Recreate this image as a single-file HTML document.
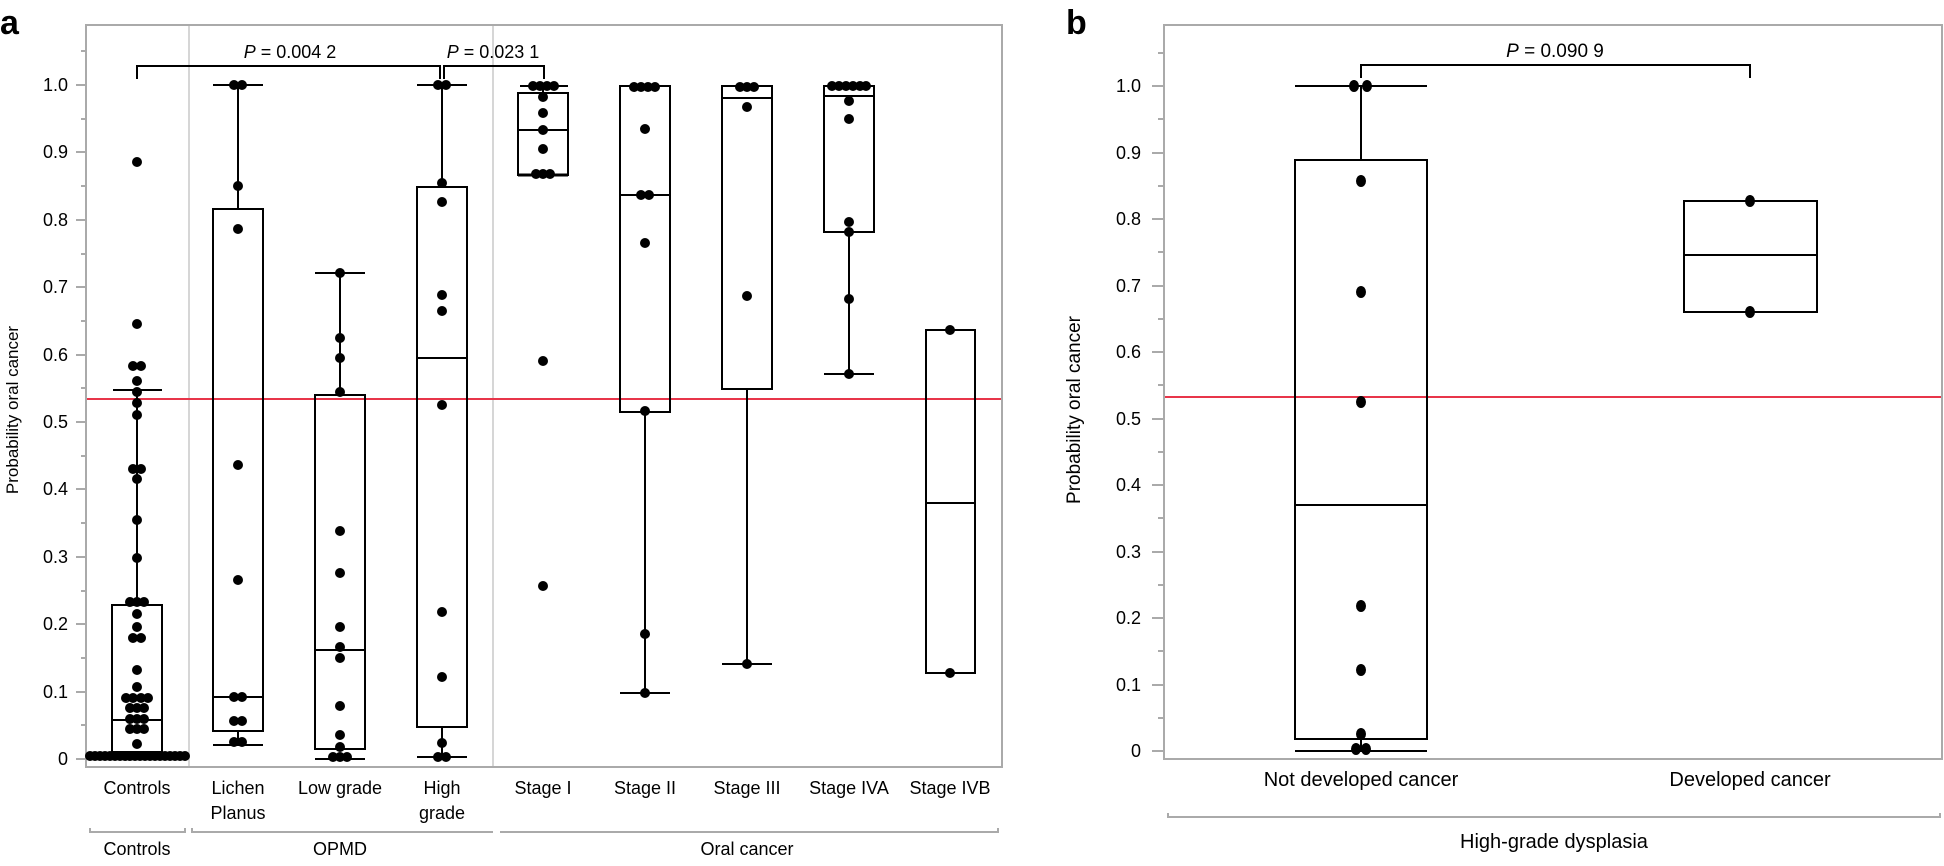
<!DOCTYPE html>
<html><head><meta charset="utf-8"><style>
html,body{margin:0;padding:0;background:#fff;}
svg{display:block;font-family:"Liberation Sans",Arial,sans-serif;}
</style></head><body>
<svg width="1944" height="866" viewBox="0 0 1944 866" xmlns="http://www.w3.org/2000/svg">
<!-- Panel a -->
<text x="0" y="34" font-size="34" font-weight="bold">a</text>
<line x1="189" y1="26" x2="189" y2="766" stroke="#d6d6d6" stroke-width="2"/>
<line x1="493" y1="26" x2="493" y2="766" stroke="#d6d6d6" stroke-width="2"/>
<rect x="86" y="25" width="916" height="742" fill="none" stroke="#aaa" stroke-width="2"/>
<g stroke="#aaa" stroke-width="2">
<line x1="76" y1="759" x2="86" y2="759"/><line x1="76" y1="692" x2="86" y2="692"/><line x1="76" y1="624" x2="86" y2="624"/><line x1="76" y1="557" x2="86" y2="557"/><line x1="76" y1="489" x2="86" y2="489"/><line x1="76" y1="422" x2="86" y2="422"/><line x1="76" y1="355" x2="86" y2="355"/><line x1="76" y1="287" x2="86" y2="287"/><line x1="76" y1="220" x2="86" y2="220"/><line x1="76" y1="152" x2="86" y2="152"/><line x1="76" y1="85" x2="86" y2="85"/>
<line x1="81" y1="725" x2="86" y2="725"/><line x1="81" y1="658" x2="86" y2="658"/><line x1="81" y1="591" x2="86" y2="591"/><line x1="81" y1="523" x2="86" y2="523"/><line x1="81" y1="456" x2="86" y2="456"/><line x1="81" y1="388" x2="86" y2="388"/><line x1="81" y1="321" x2="86" y2="321"/><line x1="81" y1="254" x2="86" y2="254"/><line x1="81" y1="186" x2="86" y2="186"/><line x1="81" y1="119" x2="86" y2="119"/><line x1="81" y1="51" x2="86" y2="51"/>
</g>
<g font-size="18" text-anchor="end">
<text x="68" y="765">0</text><text x="68" y="698">0.1</text><text x="68" y="630">0.2</text><text x="68" y="563">0.3</text><text x="68" y="495">0.4</text><text x="68" y="428">0.5</text><text x="68" y="361">0.6</text><text x="68" y="293">0.7</text><text x="68" y="226">0.8</text><text x="68" y="158">0.9</text><text x="68" y="91">1.0</text>
</g>
<text transform="translate(18,410) rotate(-90)" font-size="17" text-anchor="middle">Probability oral cancer</text>
<line x1="87" y1="399" x2="1001" y2="399" stroke="#e8354a" stroke-width="2"/>

<g stroke="#000" stroke-width="2" fill="none">
<polyline points="137,79 137,66 440,66 440,79"/>
<polyline points="444,79 444,66 544,66 544,79"/>
</g>
<text x="290" y="58" font-size="18" text-anchor="middle"><tspan font-style="italic">P</tspan> = 0.004 2</text>
<text x="493" y="58" font-size="18" text-anchor="middle"><tspan font-style="italic">P</tspan> = 0.023 1</text>

<g stroke="#000" stroke-width="2" fill="none">
<rect x="112" y="605" width="50" height="147"/><line x1="112" y1="720" x2="162" y2="720"/><line x1="137" y1="605" x2="137" y2="388"/><line x1="113" y1="390" x2="162" y2="390"/>
<rect x="213" y="209" width="50" height="522"/><line x1="213" y1="697" x2="263" y2="697"/><line x1="238" y1="209" x2="238" y2="85"/><line x1="213" y1="85" x2="263" y2="85"/><line x1="238" y1="731" x2="238" y2="745"/><line x1="213" y1="745" x2="263" y2="745"/>
<rect x="315" y="395" width="50" height="354"/><line x1="315" y1="650" x2="365" y2="650"/><line x1="340" y1="395" x2="340" y2="273"/><line x1="315" y1="273" x2="365" y2="273"/><line x1="315" y1="759" x2="365" y2="759"/>
<rect x="417" y="187" width="50" height="540"/><line x1="417" y1="358" x2="467" y2="358"/><line x1="442" y1="187" x2="442" y2="85"/><line x1="417" y1="85" x2="467" y2="85"/><line x1="442" y1="727" x2="442" y2="757"/><line x1="417" y1="757" x2="467" y2="757"/>
<rect x="518" y="93" width="50" height="82"/><line x1="518" y1="130" x2="568" y2="130"/><line x1="543" y1="93" x2="543" y2="86"/><line x1="520" y1="86" x2="568" y2="86"/><line x1="518" y1="175" x2="568" y2="175" stroke-width="3"/>
<rect x="620" y="86" width="50" height="326"/><line x1="620" y1="195" x2="670" y2="195"/><line x1="645" y1="412" x2="645" y2="693"/><line x1="620" y1="693" x2="670" y2="693"/>
<rect x="722" y="86" width="50" height="303"/><line x1="722" y1="98" x2="772" y2="98"/><line x1="747" y1="389" x2="747" y2="664"/><line x1="722" y1="664" x2="772" y2="664"/>
<rect x="824" y="86" width="50" height="146"/><line x1="824" y1="96" x2="874" y2="96"/><line x1="849" y1="232" x2="849" y2="374"/><line x1="824" y1="374" x2="874" y2="374"/>
<rect x="926" y="330" width="49" height="343"/><line x1="926" y1="503" x2="975" y2="503"/>
</g>

<g fill="#000">
<circle cx="137" cy="162" r="5"/><circle cx="137" cy="324" r="5"/><circle cx="133" cy="366" r="5"/><circle cx="141" cy="366" r="5"/><circle cx="137" cy="381" r="5"/><circle cx="137" cy="392" r="5"/><circle cx="137" cy="403" r="5"/><circle cx="137" cy="415" r="5"/><circle cx="133" cy="469" r="5"/><circle cx="141" cy="469" r="5"/><circle cx="137" cy="479" r="5"/><circle cx="137" cy="520" r="5"/><circle cx="137" cy="558" r="5"/>
<circle cx="130" cy="602" r="5"/><circle cx="137" cy="602" r="5"/><circle cx="144" cy="602" r="5"/><circle cx="137" cy="614" r="5"/><circle cx="137" cy="627" r="5"/><circle cx="133" cy="638" r="5"/><circle cx="141" cy="638" r="5"/><circle cx="137" cy="670" r="5"/><circle cx="137" cy="687" r="5"/>
<circle cx="126" cy="698" r="5"/><circle cx="133" cy="698" r="5"/><circle cx="141" cy="698" r="5"/><circle cx="148" cy="698" r="5"/>
<circle cx="130" cy="708" r="5"/><circle cx="137" cy="708" r="5"/><circle cx="144" cy="708" r="5"/>
<circle cx="130" cy="719" r="5"/><circle cx="137" cy="719" r="5"/><circle cx="144" cy="719" r="5"/>
<circle cx="130" cy="729" r="5"/><circle cx="137" cy="729" r="5"/><circle cx="144" cy="729" r="5"/>
<circle cx="137" cy="744" r="5"/>
<circle cx="90" cy="756" r="5"/><circle cx="95" cy="756" r="5"/><circle cx="100" cy="756" r="5"/><circle cx="105" cy="756" r="5"/><circle cx="110" cy="756" r="5"/><circle cx="115" cy="756" r="5"/><circle cx="120" cy="756" r="5"/><circle cx="125" cy="756" r="5"/><circle cx="130" cy="756" r="5"/><circle cx="135" cy="756" r="5"/><circle cx="140" cy="756" r="5"/><circle cx="145" cy="756" r="5"/><circle cx="150" cy="756" r="5"/><circle cx="155" cy="756" r="5"/><circle cx="160" cy="756" r="5"/><circle cx="165" cy="756" r="5"/><circle cx="170" cy="756" r="5"/><circle cx="175" cy="756" r="5"/><circle cx="180" cy="756" r="5"/><circle cx="185" cy="756" r="5"/>
<circle cx="234" cy="85" r="5"/><circle cx="242" cy="85" r="5"/><circle cx="238" cy="186" r="5"/><circle cx="238" cy="229" r="5"/><circle cx="238" cy="465" r="5"/><circle cx="238" cy="580" r="5"/><circle cx="234" cy="697" r="5"/><circle cx="242" cy="697" r="5"/><circle cx="234" cy="721" r="5"/><circle cx="242" cy="721" r="5"/><circle cx="234" cy="742" r="5"/><circle cx="242" cy="742" r="5"/>
<circle cx="340" cy="273" r="5"/><circle cx="340" cy="338" r="5"/><circle cx="340" cy="358" r="5"/><circle cx="340" cy="392" r="5"/><circle cx="340" cy="531" r="5"/><circle cx="340" cy="573" r="5"/><circle cx="340" cy="627" r="5"/><circle cx="340" cy="647" r="5"/><circle cx="340" cy="658" r="5"/><circle cx="340" cy="706" r="5"/><circle cx="340" cy="735" r="5"/><circle cx="340" cy="747" r="5"/><circle cx="333" cy="757" r="5"/><circle cx="340" cy="757" r="5"/><circle cx="347" cy="757" r="5"/>
<circle cx="438" cy="85" r="5"/><circle cx="446" cy="85" r="5"/><circle cx="442" cy="183" r="5"/><circle cx="442" cy="202" r="5"/><circle cx="442" cy="295" r="5"/><circle cx="442" cy="311" r="5"/><circle cx="442" cy="405" r="5"/><circle cx="442" cy="612" r="5"/><circle cx="442" cy="677" r="5"/><circle cx="442" cy="743" r="5"/><circle cx="438" cy="757" r="5"/><circle cx="446" cy="757" r="5"/>
<circle cx="533" cy="86" r="5"/><circle cx="540" cy="86" r="5"/><circle cx="547" cy="86" r="5"/><circle cx="554" cy="86" r="5"/><circle cx="543" cy="97" r="5"/><circle cx="543" cy="113" r="5"/><circle cx="543" cy="130" r="5"/><circle cx="543" cy="149" r="5"/><circle cx="536" cy="174" r="5"/><circle cx="543" cy="174" r="5"/><circle cx="550" cy="174" r="5"/><circle cx="543" cy="361" r="5"/><circle cx="543" cy="586" r="5"/>
<circle cx="634" cy="87" r="5"/><circle cx="641" cy="87" r="5"/><circle cx="648" cy="87" r="5"/><circle cx="655" cy="87" r="5"/><circle cx="645" cy="129" r="5"/><circle cx="641" cy="195" r="5"/><circle cx="649" cy="195" r="5"/><circle cx="645" cy="243" r="5"/><circle cx="645" cy="411" r="5"/><circle cx="645" cy="634" r="5"/><circle cx="645" cy="693" r="5"/>
<circle cx="740" cy="87" r="5"/><circle cx="747" cy="87" r="5"/><circle cx="754" cy="87" r="5"/><circle cx="747" cy="107" r="5"/><circle cx="747" cy="296" r="5"/><circle cx="747" cy="664" r="5"/>
<circle cx="832" cy="86" r="5"/><circle cx="839" cy="86" r="5"/><circle cx="846" cy="86" r="5"/><circle cx="853" cy="86" r="5"/><circle cx="860" cy="86" r="5"/><circle cx="866" cy="86" r="5"/><circle cx="849" cy="101" r="5"/><circle cx="849" cy="119" r="5"/><circle cx="849" cy="222" r="5"/><circle cx="849" cy="232" r="5"/><circle cx="849" cy="299" r="5"/><circle cx="849" cy="374" r="5"/>
<circle cx="950" cy="330" r="5"/><circle cx="950" cy="673" r="5"/>
</g>

<g font-size="18" text-anchor="middle">
<text x="137" y="794">Controls</text>
<text x="238" y="794">Lichen</text><text x="238" y="819">Planus</text>
<text x="340" y="794">Low grade</text>
<text x="442" y="794">High</text><text x="442" y="819">grade</text>
<text x="543" y="794">Stage I</text>
<text x="645" y="794">Stage II</text>
<text x="747" y="794">Stage III</text>
<text x="849" y="794">Stage IVA</text>
<text x="950" y="794">Stage IVB</text>
</g>
<g font-size="18" text-anchor="middle">
<text x="137" y="855">Controls</text>
<text x="340" y="855">OPMD</text>
<text x="747" y="855">Oral cancer</text>
</g>
<g stroke="#aaa" stroke-width="2" fill="none">
<polyline points="90,828 90,832 185,832 185,828"/>
<polyline points="192,828 192,832 493,832"/>
<polyline points="500,832 998,832 998,828"/>
</g>

<!-- Panel b -->
<text x="1066" y="34" font-size="34" font-weight="bold">b</text>
<rect x="1164" y="25" width="778" height="734" fill="none" stroke="#aaa" stroke-width="2"/>
<g stroke="#aaa" stroke-width="2">
<line x1="1152" y1="751" x2="1164" y2="751"/><line x1="1152" y1="685" x2="1164" y2="685"/><line x1="1152" y1="618" x2="1164" y2="618"/><line x1="1152" y1="552" x2="1164" y2="552"/><line x1="1152" y1="485" x2="1164" y2="485"/><line x1="1152" y1="419" x2="1164" y2="419"/><line x1="1152" y1="352" x2="1164" y2="352"/><line x1="1152" y1="286" x2="1164" y2="286"/><line x1="1152" y1="219" x2="1164" y2="219"/><line x1="1152" y1="153" x2="1164" y2="153"/><line x1="1152" y1="86" x2="1164" y2="86"/>
<line x1="1158" y1="718" x2="1164" y2="718"/><line x1="1158" y1="651" x2="1164" y2="651"/><line x1="1158" y1="585" x2="1164" y2="585"/><line x1="1158" y1="518" x2="1164" y2="518"/><line x1="1158" y1="452" x2="1164" y2="452"/><line x1="1158" y1="385" x2="1164" y2="385"/><line x1="1158" y1="319" x2="1164" y2="319"/><line x1="1158" y1="252" x2="1164" y2="252"/><line x1="1158" y1="186" x2="1164" y2="186"/><line x1="1158" y1="119" x2="1164" y2="119"/><line x1="1158" y1="53" x2="1164" y2="53"/>
</g>
<g font-size="18" text-anchor="end">
<text x="1141" y="757">0</text><text x="1141" y="691">0.1</text><text x="1141" y="624">0.2</text><text x="1141" y="558">0.3</text><text x="1141" y="491">0.4</text><text x="1141" y="425">0.5</text><text x="1141" y="358">0.6</text><text x="1141" y="292">0.7</text><text x="1141" y="225">0.8</text><text x="1141" y="159">0.9</text><text x="1141" y="92">1.0</text>
</g>
<text transform="translate(1080,410) rotate(-90)" font-size="19" text-anchor="middle">Probability oral cancer</text>
<line x1="1165" y1="397" x2="1941" y2="397" stroke="#e8354a" stroke-width="2"/>
<polyline points="1361,78 1361,65 1750,65 1750,78" stroke="#000" stroke-width="2" fill="none"/>
<text x="1555" y="57" font-size="19" text-anchor="middle"><tspan font-style="italic">P</tspan> = 0.090 9</text>
<g stroke="#000" stroke-width="2" fill="none">
<rect x="1295" y="160" width="132" height="579"/><line x1="1295" y1="505" x2="1427" y2="505"/><line x1="1361" y1="160" x2="1361" y2="86"/><line x1="1295" y1="86" x2="1427" y2="86"/><line x1="1361" y1="739" x2="1361" y2="751"/><line x1="1295" y1="751" x2="1427" y2="751"/>
<rect x="1684" y="201" width="133" height="111"/><line x1="1684" y1="255" x2="1817" y2="255"/>
</g>
<g fill="#000">
<ellipse cx="1354" cy="86" rx="5" ry="6"/><ellipse cx="1367" cy="86" rx="5" ry="6"/><ellipse cx="1361" cy="181" rx="5" ry="6"/><ellipse cx="1361" cy="292" rx="5" ry="6"/><ellipse cx="1361" cy="402" rx="5" ry="6"/><ellipse cx="1361" cy="606" rx="5" ry="6"/><ellipse cx="1361" cy="670" rx="5" ry="6"/><ellipse cx="1361" cy="734" rx="5" ry="6"/><ellipse cx="1356" cy="749" rx="5" ry="6"/><ellipse cx="1366" cy="749" rx="5" ry="6"/>
<ellipse cx="1750" cy="201" rx="5" ry="6"/><ellipse cx="1750" cy="312" rx="5" ry="6"/>
</g>
<g font-size="20" text-anchor="middle">
<text x="1361" y="786">Not developed cancer</text>
<text x="1750" y="786">Developed cancer</text>
<text x="1554" y="848">High-grade dysplasia</text>
</g>
<polyline points="1168,813 1168,817 1940,817 1940,813" stroke="#aaa" stroke-width="2" fill="none"/>
</svg>
</body></html>
